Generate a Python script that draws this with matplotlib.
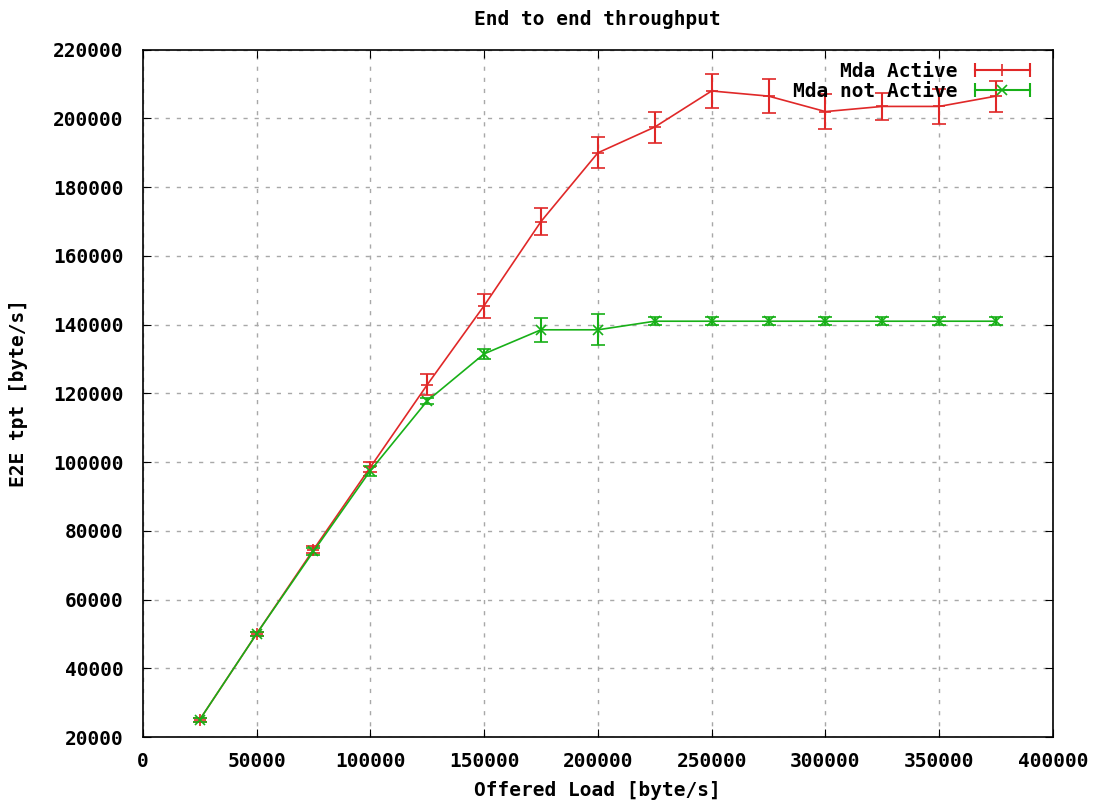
import matplotlib.pyplot as plt
from matplotlib.lines import Line2D
from matplotlib.legend_handler import HandlerLine2D

# offered load (byte/s)
load = [25000, 50000, 75000, 100000, 125000, 150000, 175000, 200000,
        225000, 250000, 275000, 300000, 325000, 350000, 375000]

# Mda Active
tpt_active = [25000, 50000, 74500, 98500, 122500, 145500, 170000, 190000,
              197500, 208000, 206500, 202000, 203500, 203500, 206500]
err_active = [500, 700, 1000, 1500, 3000, 3500, 4000, 4500,
              4500, 5000, 5000, 5000, 4000, 5000, 4500]

# Mda not Active
tpt_inactive = [25000, 50000, 74000, 97500, 117800, 131500, 138500, 138500,
                141000, 141000, 141000, 141000, 141000, 141000, 141000]
err_inactive = [500, 700, 1000, 1500, 1000, 1500, 3500, 4500,
                1200, 1200, 1200, 1200, 1200, 1200, 1200]

plt.rcParams['font.family'] = ['DejaVu Sans Mono']
plt.rcParams['font.weight'] = 'bold'

fig = plt.figure(figsize=(10.98, 8.02), dpi=100)
ax = fig.add_axes([0.130, 0.081, 0.829, 0.857])

red = '#e02828'
green = '#18b018'

ax.errorbar(load, tpt_active, yerr=err_active, color=red, lw=1.2,
            marker='+', ms=9, mew=1.2, capsize=5, elinewidth=1.5, capthick=1.5)
ax.errorbar(load, tpt_inactive, yerr=err_inactive, color=green, lw=1.2,
            marker='x', ms=7, mew=1.2, capsize=5, elinewidth=1.5, capthick=1.5)

ax.set_xlim(0, 400000)
ax.set_ylim(20000, 220000)
ax.set_xticks(range(0, 400001, 50000))
ax.set_yticks(range(20000, 220001, 20000))
ax.tick_params(direction='in', top=True, right=True, length=6, labelsize=14)
ax.tick_params(axis='y', pad=14)
ax.tick_params(axis='x', pad=11)
ax.grid(True, color='#a8a8a8', linestyle=(0, (3, 5)), lw=1)
for s in ax.spines.values():
    s.set_linewidth(1.2)

ax.set_title('End to end throughput', fontsize=14, fontweight='bold', pad=18)
ax.set_xlabel('Offered Load [byte/s]', fontsize=14, fontweight='bold', labelpad=7)
ax.set_ylabel('E2E tpt [byte/s]', fontsize=14, fontweight='bold', labelpad=18)

# gnuplot style legend samples: |---+---|
handles = []
hmap = {}
for c, m, ms in [(red, '+', 9), (green, 'x', 7)]:
    caps = Line2D([], [], color=c, lw=1.5, marker='|', ms=10, mew=1.5)
    mark = Line2D([], [], color=c, lw=0, marker=m, ms=ms, mew=1.2)
    hmap[caps] = HandlerLine2D(numpoints=2)
    hmap[mark] = HandlerLine2D(numpoints=1)
    handles.append((caps, mark))

ax.legend(handles, ['Mda Active', 'Mda not Active'], handler_map=hmap,
          loc='upper right', bbox_to_anchor=(1.0, 1.008), markerfirst=False,
          frameon=False, fontsize=14, handlelength=3.4,
          labelspacing=0.05, handletextpad=0.6)

fig.savefig('out.png', dpi=100)
